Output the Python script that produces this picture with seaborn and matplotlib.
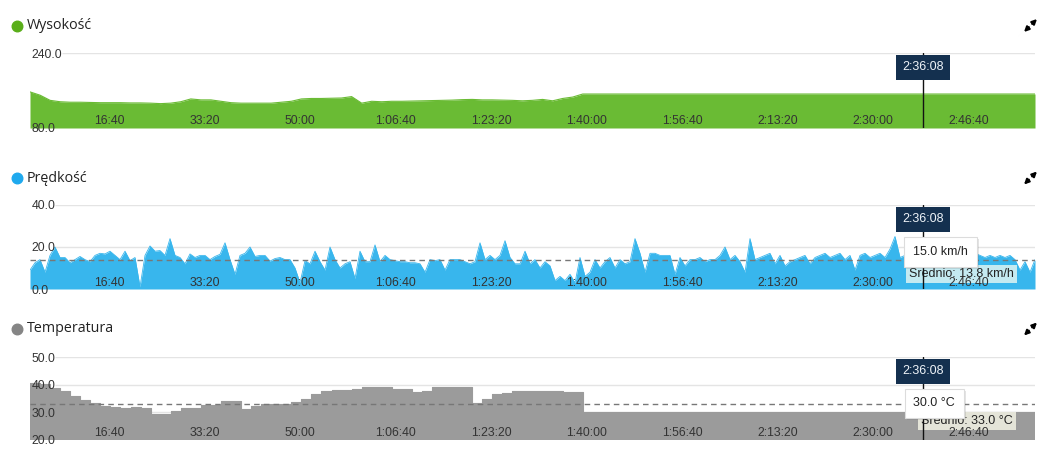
import numpy as np
import matplotlib.pyplot as plt
import seaborn as sns
from matplotlib.lines import Line2D
from matplotlib.patches import FancyArrowPatch
from matplotlib import patheffects as pe

sns.set_theme(style="white")
plt.rcParams['font.family'] = ['Liberation Sans', 'DejaVu Sans']

# time window of the ride (seconds) and the hover cursor
t_start, t_end = 173, 10696
cursor_t = 9527
cursor_label = "2:36:08"

tick_secs = [1000, 2000, 3000, 4000, 5000, 6000, 7000, 8000, 9000, 10000]
tick_labels = ["16:40", "33:20", "50:00", "1:06:40", "1:23:20", "1:40:00",
               "1:56:40", "2:13:20", "2:30:00", "2:46:40"]

# altitude [m]
altitude = [157, 150, 139, 136, 135, 135, 134.5, 134, 134, 134,
            133.5, 133.5, 133, 132, 133, 136, 142, 140, 140, 137,
            134, 133, 133, 133, 133, 135, 137, 142, 143, 143,
            143.5, 144, 147, 133, 137, 136, 137, 137, 137.5, 138,
            138.5, 139, 139.5, 140.5, 141, 140, 140, 139.5, 139, 138,
            139, 141, 138, 143, 146, 152.5, 152.5, 152.5, 152.5, 152.5,
            152.5, 152.5, 152.5, 152.5, 152.5, 152.5, 152.5, 152.5, 152.5, 152.5,
            152.5, 152.5, 152.5, 152.5, 152.5, 152.5, 152.5, 152.5, 152.5, 152.5,
            152.5, 152.5, 152.5, 152.5, 152.5, 152.5, 152.5, 152.5, 152.5, 152.5,
            152.5, 152.5, 152.5, 152.5, 152.5, 152.5, 152.5, 152.5, 152.5, 152.5,
            152.5]

# speed [km/h]
speed = [9, 12.5, 14, 8, 16, 20, 15, 15, 12.5, 14, 15.5, 14, 13, 16, 17, 16.7, 18, 16, 14, 18,
         13.5, 15, 1, 16, 20.5, 18, 18.3, 16, 24, 16, 15, 12, 16.7, 15, 16, 16, 14, 15.5, 16.5, 22,
         14, 7, 16, 17, 20, 15.5, 16, 16, 13.3, 14.5, 15, 14,
         14, 10, 3, 13.5, 12, 18, 13, 9, 20, 14, 10, 12, 13, 5, 18, 13, 13, 21, 13, 16,
         14, 13.5, 13, 13, 12.5, 12.5, 12, 8, 14, 13.5, 14, 9, 14, 14, 14, 13, 12, 13, 22, 14,
         16, 14, 16, 23, 15, 12, 12, 18, 12, 14, 10,
         13, 11, 4, 6, 4, 7, 3, 15, 6, 8, 14, 10, 13, 15, 10, 14, 12, 13, 24, 17,
         8, 17, 17, 16, 16, 16, 7, 15, 11, 14, 14, 15, 13, 14, 14, 16, 20, 14, 16, 13,
         8, 24, 14, 15, 16, 17, 12, 16, 11, 13,
         14, 15, 16, 12, 15, 16, 17, 15, 16, 17, 14, 16, 9, 16, 17, 15, 16, 17, 15, 19,
         25, 15, 16, 15, 16, 15, 15, 16, 14, 15, 16, 15, 16, 15, 16, 15, 17, 16, 15, 16,
         15, 16, 15, 16, 14, 9, 13, 8, 14]
speed_now, speed_avg = 15.0, 13.8

# temperature [°C]
temperature = [40.6, 40.3, 38.8, 37.8, 35.8, 34.6, 33.4, 32.4, 31.8, 31.4,
               32, 31.4, 29.3, 29.3, 30.5, 31.4, 31.4, 32.6, 32.6, 34,
               34, 31.2, 32.4, 33, 33, 33, 33.6, 34.8, 36.6, 37.8,
               38, 38.2, 38.4, 39, 39, 39, 38.6, 38.4, 37.5, 37.6,
               39.2, 39.2, 39.2, 39.2, 33.5, 35, 36.5, 37, 37.6, 37.6,
               37.6, 37.6, 37.6, 37.4, 37.4, 30, 30, 30, 30, 30,
               30, 30, 30, 30, 30, 30, 30, 30, 30, 30,
               30, 30, 30, 30, 30, 30, 30, 30, 30, 30,
               30, 30, 30, 30, 30, 30, 30, 30, 30, 30,
               30, 30, 30, 30, 30, 30, 30, 30, 30, 30,
               30]
temp_now, temp_avg = 30.0, 33.0

W, H = 1048, 451
fig = plt.figure(figsize=(W / 100, H / 100), dpi=100)


def fig_xy(x, y):
    return x / W, 1 - y / H


def make_axes(top_px, bottom_px):
    return fig.add_axes([30 / W, 1 - bottom_px / H, 1005 / W, (bottom_px - top_px) / H])


def style_axes(ax, ylim, yticks, grid, label_end):
    ax.set_xlim(t_start, t_end)
    ax.set_ylim(*ylim)
    for s in ax.spines.values():
        s.set_visible(False)
    ax.patch.set_alpha(0)
    ax.set_xticks(tick_secs, tick_labels)
    ax.tick_params(axis='x', direction='in', length=0, pad=-9, labelsize=8.8,
                   labelcolor='#333333')
    ax.set_yticks(yticks, [f"{v:.1f}" for v in yticks])
    ax.tick_params(axis='y', length=0, pad=-1, labelsize=8.8, labelcolor='#333333')
    for lbl in ax.get_yticklabels():
        lbl.set_ha('left')
    ax.xaxis.set_zorder(5.2)
    ax.yaxis.set_zorder(5.2)
    ax.set_xlabel('')
    ax.set_ylabel('')
    for g in grid:
        ax.hlines(g, label_end, 1, transform=ax.get_yaxis_transform(),
                  color='#e4e4e4', lw=1, zorder=0.5)


def cursor(ax):
    ax.axvline(cursor_t, color='#111111', lw=1, zorder=5.5)
    ax.annotate(cursor_label, xy=(cursor_t, 1), xycoords=ax.get_xaxis_transform(),
                xytext=(0, -14.5), textcoords='offset pixels', ha='center', va='center',
                color='#eef3f8', fontsize=9,
                bbox=dict(boxstyle='square,pad=0.5', fc='#14304f', ec='none'), zorder=6)


def tooltip(ax, value, text, offset):
    t = ax.annotate(text, xy=(cursor_t, value), xytext=offset, textcoords='offset pixels',
                    ha='center', va='center', color='#222222', fontsize=9,
                    bbox=dict(boxstyle='square,pad=0.7', fc='white', ec='#dcdcdc', lw=0.8),
                    zorder=7)
    t.get_bbox_patch().set_path_effects([pe.SimplePatchShadow(offset=(1.5, -1.5), alpha=0.15),
                                         pe.Normal()])


def average(ax, value, text, offset, fc):
    ax.axhline(value, color='#777777', lw=1, ls=(0, (4, 3)), zorder=3)
    ax.annotate(text, xy=(cursor_t, value), xytext=offset, textcoords='offset pixels',
                ha='center', va='center', color='#222222', fontsize=9,
                bbox=dict(boxstyle='square,pad=0.25', fc=fc, ec='none'), zorder=5)


def header(y, title, dot):
    fig.add_artist(Line2D([fig_xy(17, y)[0]], [fig_xy(17, y)[1]], marker='o', markersize=7.6,
                          color=dot, transform=fig.transFigure))
    fig.text(*fig_xy(27, y), title, ha='left', va='center', fontsize=10.3,
             family=['Open Sans', 'DejaVu Sans'], color='#222222')
    cx = 1030.5
    # expand icon: two small arrows pointing to opposite corners
    for dx, dy in [(6.5, -6.5), (-6.5, 6.5)]:
        fig.add_artist(FancyArrowPatch(fig_xy(cx + dx * 0.25, y + dy * 0.25),
                                       fig_xy(cx + dx, y + dy),
                                       arrowstyle='-|>', mutation_scale=7, lw=1.5,
                                       shrinkA=0, shrinkB=0,
                                       color='black', transform=fig.transFigure))


# --- Wysokość ---
ax1 = make_axes(53, 128)
t_alt = np.linspace(t_start, t_end, len(altitude))
sns.lineplot(x=t_alt, y=altitude, ax=ax1, color='#6abb34', lw=0.8)
ax1.fill_between(t_alt, altitude, 80, color='#6abb34', lw=0, zorder=2)
style_axes(ax1, (80, 240), [80, 240], [240], 0.032)
cursor(ax1)
header(25.5, "Wysokość", '#5aae1a')

# --- Prędkość ---
ax2 = make_axes(205, 289)
t_spd = np.linspace(t_start, t_end, len(speed))
sns.lineplot(x=t_spd, y=speed, ax=ax2, color='#38b6ed', lw=0.6)
ax2.fill_between(t_spd, speed, 0, color='#38b6ed', lw=0, zorder=2)
style_axes(ax2, (0, 40), [0, 20, 40], [20, 40], 0.025)
cursor(ax2)
average(ax2, speed_avg, f"Średnio: {speed_avg:.1f} km/h", (38, -14), '#c4eaf1')
tooltip(ax2, speed_now, f"{speed_now:.1f} km/h", (17, 5.5))
header(178, "Prędkość", '#1fa9ee')

# --- Temperatura ---
ax3 = make_axes(357, 440)
t_tmp = np.linspace(t_start, t_end, len(temperature))
sns.lineplot(x=t_tmp, y=temperature, ax=ax3, color='#9b9b9b', lw=0.8, drawstyle='steps-post')
ax3.fill_between(t_tmp, temperature, 20, step='post', color='#9b9b9b', lw=0, zorder=2)
style_axes(ax3, (20, 50), [20, 30, 40, 50], [30, 40, 50], 0.025)
cursor(ax3)
average(ax3, temp_avg, f"Średnio: {temp_avg:.1f} °C", (44, -17), '#e4e4d8')
tooltip(ax3, temp_now, f"{temp_now:.1f} °C", (11, 9))
header(329, "Temperatura", '#858585')

fig.savefig("out.png", dpi=100)
